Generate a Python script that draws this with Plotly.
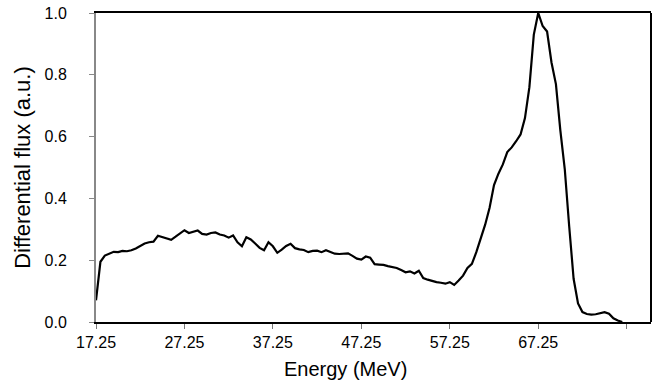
import plotly.graph_objects as go

energy_start = 17.25
energy_step = 0.5
flux = [
    0.07, 0.195, 0.215, 0.222, 0.227, 0.226, 0.23, 0.229, 0.232, 0.238,
    0.245, 0.254, 0.258, 0.26, 0.279, 0.275, 0.27, 0.266, 0.276, 0.287,
    0.297, 0.288, 0.293, 0.296, 0.285, 0.283, 0.288, 0.29, 0.283, 0.28,
    0.273, 0.28, 0.258, 0.245, 0.274, 0.267, 0.254, 0.24, 0.232, 0.258,
    0.245, 0.224, 0.234, 0.246, 0.253, 0.239, 0.235, 0.233, 0.226, 0.23,
    0.231, 0.226, 0.232, 0.226, 0.221, 0.22, 0.22, 0.222, 0.214, 0.205,
    0.202, 0.212, 0.208, 0.187, 0.186, 0.185, 0.181, 0.178, 0.175, 0.168,
    0.161, 0.164, 0.157, 0.166, 0.142, 0.137, 0.132, 0.129, 0.127, 0.124,
    0.129, 0.12, 0.134, 0.15, 0.175, 0.188, 0.226, 0.268, 0.315, 0.37,
    0.443, 0.48, 0.51, 0.55, 0.565, 0.585, 0.607, 0.66, 0.76, 0.93,
    1.0, 0.958, 0.94, 0.84, 0.77, 0.62, 0.495, 0.31, 0.14, 0.06,
    0.032, 0.026, 0.024, 0.025, 0.028, 0.032, 0.027, 0.012, 0.005, 0.0,
]
energy = [energy_start + energy_step * i for i in range(len(flux))]

x_tickvals = [17.25, 27.25, 37.25, 47.25, 57.25, 67.25, 77.25]
x_ticktext = ["17.25", "27.25", "37.25", "47.25", "57.25", "67.25", ""]
y_tickvals = [0.0, 0.2, 0.4, 0.6, 0.8, 1.0]
y_ticktext = ["0.0", "0.2", "0.4", "0.6", "0.8", "1.0"]

fig = go.Figure()
fig.add_trace(go.Scatter(x=energy, y=flux, mode="lines",
                         line=dict(color="black", width=2.2), showlegend=False,
                         cliponaxis=False))

font = "Liberation Sans, Arial, sans-serif"
fig.update_layout(
    width=656, height=382,
    margin=dict(l=96, r=5, t=11, b=60),
    paper_bgcolor="white", plot_bgcolor="white",
    font=dict(family=font, color="black", size=16),
    xaxis=dict(
        range=[17.25, 80.0], tickvals=x_tickvals, ticktext=x_ticktext,
        showgrid=False, zeroline=False,
        showline=True, linecolor="black", linewidth=2, mirror=True,
        ticks="outside", ticklen=5, tickcolor="#777", tickwidth=1,
        tickfont=dict(size=16),
    ),
    yaxis=dict(
        range=[0, 1.0], tickvals=y_tickvals, ticktext=y_ticktext,
        showgrid=False, zeroline=False,
        showline=True, linecolor="#888", linewidth=2,
        ticks="outside", ticklen=5, tickcolor="#888", tickwidth=1,
        tickfont=dict(size=16), ticklabelstandoff=19,
        title=dict(text="Differential flux (a.u.)", font=dict(size=22), standoff=8),
    ),
    shapes=[dict(type="line", xref="paper", yref="paper", x0=1, x1=1, y0=0, y1=1,
                 line=dict(color="black", width=2))],
    annotations=[dict(text="Energy (MeV)", xref="paper", yref="paper",
                      x=0.449, y=0, xanchor="center", yanchor="middle",
                      yshift=-47, showarrow=False, font=dict(size=20))],
)

fig.write_html("out.html")
